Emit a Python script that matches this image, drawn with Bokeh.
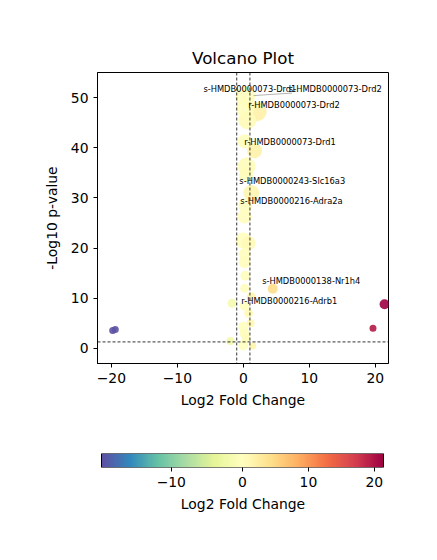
import numpy as np
from bokeh.plotting import figure
from bokeh.models import (ColumnDataSource, Range1d, FixedTicker, Span, LinearColorMapper,
                          CustomJSTickFormatter)
from bokeh.layouts import column
from bokeh.transform import linear_cmap
from bokeh.core.properties import value
from bokeh.embed import file_html
from bokeh.resources import INLINE

# Differential results: log2 fold change, -log10 p-value and a marker size per feature
log2_fc = [0.3, 2.1, 0.3, 0.6, 0.2, 1.7, 0.5, 0.4, 1.2, 0.3, 0.2, 0.0, 0.8, 0.2,
           0.2, 0.3, 4.45, 0.2, 1.2, -1.7, 0.2, 0.8, 1.1, 0.0, 0.2, 0.4, -1.95,
           0.0, 1.45, -19.8, -19.4, 21.4, 19.65]
neg_log10_p = [50.3, 47.2, 47.8, 45.5, 41.3, 39.4, 36.3, 34.5, 31.0, 28.5, 26.3,
               21.5, 21.0, 18.8, 17.2, 14.5, 11.9, 12.0, 10.3, 9.0, 8.5, 7.0, 5.0,
               4.3, 3.0, 2.0, 1.5, 0.6, 0.5, 3.6, 3.8, 8.8, 4.05]
marker_px = [20, 19, 18, 18, 14, 15, 18, 14, 16, 14, 14, 16, 14, 12, 12, 10, 10,
             9, 9, 9, 10, 9, 8, 10, 10, 9, 8, 10, 7, 7, 7, 10, 7]

# Annotated features
label_text = ["s-HMDB0000073-Drd1", "s-HMDB0000073-Drd2", "r-HMDB0000073-Drd2",
              "r-HMDB0000073-Drd1", "s-HMDB0000243-Slc16a3", "s-HMDB0000216-Adra2a",
              "s-HMDB0000138-Nr1h4", "r-HMDB0000216-Adrb1"]
label_x = [-6.05, 6.9, 0.75, 0.15, -0.6, -0.45, 2.85, -0.3]
label_y = [51.8, 51.8, 48.6, 41.2, 33.3, 29.3, 13.5, 9.4]

# Leader line from a point to its displaced label
leader_x0, leader_y0, leader_x1, leader_y1 = [1.56], [50.4], [7.38], [50.9]

cbar_ticks = [-10, 0, 10, 20]

FC_CUT = 1.0
P_CUT = 0.05

# Spectral colour stops, low to high (reversed Spectral)
SPECTRAL_R = ["#5e4fa2", "#3288bd", "#66c2a5", "#abdda4", "#e6f598", "#ffffbf",
              "#fee08b", "#fdae61", "#f46d43", "#d53e4f", "#9e0142"]


def interp_palette(stops, n=256):
    rgb = np.array([[int(h[i:i + 2], 16) for i in (1, 3, 5)] for h in stops], float)
    pos = np.linspace(0, 1, len(stops))
    t = np.linspace(0, 1, n)
    out = np.stack([np.interp(t, pos, rgb[:, c]) for c in range(3)], axis=1)
    return ["#%02x%02x%02x" % tuple(int(round(v)) for v in row) for row in out]


palette = interp_palette(SPECTRAL_R)
fc_lo, fc_hi = min(log2_fc), max(log2_fc)


def two_slope(v, lo=fc_lo, hi=fc_hi):
    """Diverging normalisation centred on zero: [lo, 0] -> [0, .5], [0, hi] -> [.5, 1]."""
    return 0.5 * (v - lo) / (0 - lo) if v < 0 else 0.5 + 0.5 * v / hi


FONT = "DejaVu Sans"
MINUS = "\u2212"

src = ColumnDataSource(dict(x=log2_fc, y=neg_log10_p, s=marker_px,
                            t=[two_slope(v) for v in log2_fc]))
lab = ColumnDataSource(dict(x=label_x, y=label_y, text=label_text))

BORDER_L, BORDER_R, FRAME_W = 97, 49, 291

p = figure(frame_width=FRAME_W, frame_height=291, x_range=Range1d(-22.1, 22.0),
           y_range=Range1d(-3, 55), output_backend="svg", toolbar_location=None,
           title="Volcano Plot", min_border_left=BORDER_L, min_border_right=BORDER_R,
           min_border_top=72, min_border_bottom=57)
p.title.align = "center"
p.title.text_font = FONT
p.title.text_font_size = "16.7px"
p.title.text_font_style = "normal"
p.title.text_color = "black"
p.outline_line_color = "black"
p.outline_line_alpha = 1
p.xgrid.visible = False
p.ygrid.visible = False
p.background_fill_color = "white"
p.border_fill_color = "white"

p.xaxis.ticker = FixedTicker(ticks=[-20, -10, 0, 10, 20])
p.xaxis.major_label_overrides = {-20: MINUS + "20", -10: MINUS + "10"}
p.yaxis.ticker = FixedTicker(ticks=[0, 10, 20, 30, 40, 50])
p.xaxis.axis_label = "Log2 Fold Change"
p.yaxis.axis_label = "-Log10 p-value"


def style_axis(ax):
    ax.major_tick_in = 0
    ax.major_tick_out = 4
    ax.minor_tick_line_color = None
    ax.major_tick_line_color = "black"
    ax.major_label_text_font = FONT
    ax.major_label_text_font_size = "13.9px"
    ax.major_label_text_color = "black"
    ax.axis_label_text_font = FONT
    ax.axis_label_text_font_size = "13.9px"
    ax.axis_label_text_font_style = "normal"
    ax.axis_label_text_color = "black"


for ax in (p.xaxis[0], p.yaxis[0]):
    style_axis(ax)
    ax.axis_line_color = "black"
p.xaxis.axis_label_standoff = 6
p.yaxis.axis_label_standoff = 8

p.scatter("x", "y", size="s", source=src, line_color=None, fill_alpha=0.9,
          fill_color=linear_cmap("t", palette, 0, 1))

for loc, dim in ((-FC_CUT, "height"), (FC_CUT, "height"), (-np.log10(P_CUT), "width")):
    p.add_layout(Span(location=loc, dimension=dim, line_color="black",
                      line_width=0.8, line_dash="3 2"))

p.segment(leader_x0, leader_y0, leader_x1, leader_y1, line_color="#808080", line_width=0.6)
p.text(x="x", y="y", text="text", source=lab, text_font=value(FONT),
       text_font_size="8.3px", text_baseline="middle", text_align="left",
       text_color="black")

# Colour bar strip: x runs in normalised units, inset 4 px / 5 px inside the frame
BAR_W = 282
inset_l, inset_r = 4 / BAR_W, 5 / BAR_W
mapper = LinearColorMapper(palette=palette, low=0, high=1)
cb = figure(frame_width=FRAME_W, frame_height=14, x_range=Range1d(-inset_l, 1 + inset_r),
            y_range=Range1d(0, 1), output_backend="svg", toolbar_location=None,
            min_border_left=BORDER_L, min_border_right=BORDER_R, min_border_top=33,
            min_border_bottom=91)
cb.image(image=[np.linspace(0, 1, 512).reshape(1, -1)], x=0, y=0, dw=1, dh=1,
         color_mapper=mapper)
cb.quad(left=[0], right=[1], bottom=[0], top=[1], fill_color=None,
        line_color="black", line_width=1)
cb.outline_line_color = None
cb.xgrid.visible = False
cb.ygrid.visible = False
cb.yaxis.visible = False
cb.xaxis.ticker = FixedTicker(ticks=[two_slope(v) for v in cbar_ticks])
cb.xaxis.formatter = CustomJSTickFormatter(args=dict(lo=fc_lo, hi=fc_hi), code="""
    const v = tick < 0.5 ? (1 - tick / 0.5) * lo : (tick - 0.5) / 0.5 * hi;
    const r = Math.round(v);
    return r < 0 ? '\\u2212' + Math.abs(r) : String(r);
""")
cb.xaxis.axis_label = "Log2 Fold Change"
style_axis(cb.xaxis[0])
cb.xaxis.axis_line_color = None
cb.xaxis.axis_label_standoff = 6

layout = column(p, cb, spacing=0)
open("out.html", "w").write(file_html(layout, INLINE))
